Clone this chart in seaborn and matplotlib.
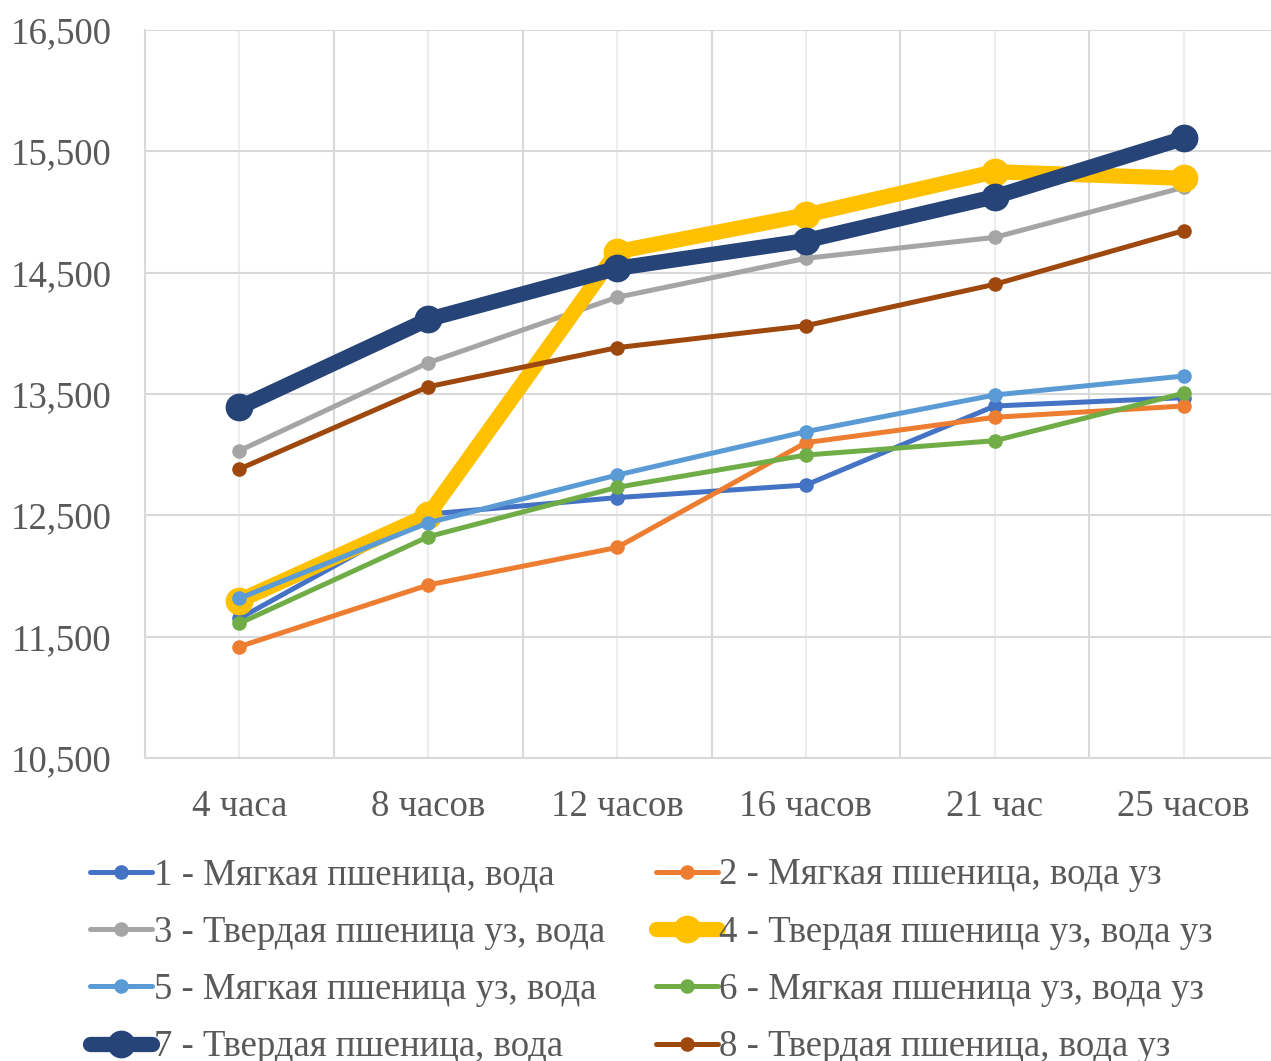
import numpy as np
import pandas as pd
import seaborn as sns
import matplotlib.pyplot as plt
from matplotlib.ticker import FuncFormatter, FixedLocator

# Time points (categories on the x axis)
hours = ["4 часа", "8 часов", "12 часов", "16 часов", "21 час", "25 часов"]

# Series names
names = [
    "1 - Мягкая пшеница, вода",
    "2 - Мягкая пшеница, вода уз",
    "3 - Твердая пшеница уз, вода",
    "4 - Твердая пшеница уз, вода уз",
    "5 - Мягкая пшеница уз, вода",
    "6 - Мягкая пшеница уз, вода уз",
    "7 - Твердая пшеница, вода",
    "8 - Твердая пшеница, вода уз",
]

# Values per series
s1 = [11650, 12510, 12646, 12750, 13401, 13470]
s2 = [11418, 11926, 12235, 13099, 13308, 13401]
s3 = [13033, 13758, 14297, 14618, 14791, 15203]
s4 = [11797, 12503, 14673, 14975, 15332, 15278]
s5 = [11816, 12439, 12832, 13190, 13492, 13648]
s6 = [11610, 12324, 12731, 12997, 13115, 13506]
s7 = [13390, 14115, 14536, 14764, 15126, 15607]
s8 = [12882, 13560, 13882, 14063, 14404, 14846]

series = [s1, s2, s3, s4, s5, s6, s7, s8]
colors = ["#4472C4", "#ED7D31", "#A5A5A5", "#FFC000",
          "#5B9BD5", "#70AD47", "#264478", "#9E480E"]
widths = [3.6, 3.6, 3.6, 11, 3.6, 3.6, 11, 3.6]
msizes = [10.5, 10.5, 10.5, 20, 10.5, 10.5, 20, 10.5]

sns.set_theme(style="white")
plt.rcParams["font.family"] = ["Liberation Serif", "DejaVu Serif"]
text_color = "#595959"
fs = 26.5

fig = plt.figure(figsize=(12.71, 10.61), dpi=100)
ax = fig.add_axes([145 / 1271, 303 / 1061, 1133 / 1271, 728 / 1061])

pos = np.arange(len(hours))
for name, vals, c, lw, ms in zip(names, series, colors, widths, msizes):
    df = pd.DataFrame({"pos": pos, "value": vals})
    sns.lineplot(data=df, x="pos", y="value", ax=ax, color=c, linewidth=lw,
                 marker="o", markersize=ms, markeredgewidth=0,
                 label=name, legend=False)

ax.set_xlim(-0.5, 5.5)
ax.set_ylim(10500, 16500)
ax.set_yticks(np.arange(10500, 16501, 1000))
ax.yaxis.set_major_formatter(FuncFormatter(lambda v, p: f"{int(v):,}"))
ax.set_xticks(pos)
ax.set_xticklabels(hours)
ax.xaxis.set_minor_locator(FixedLocator(np.arange(-0.5, 6.0, 1.0)))

ax.grid(False)
ax.grid(axis="y", which="major", color="#D9D9D9", linewidth=1.5)
ax.grid(axis="x", which="major", color="#EDEDED", linewidth=1.5)
ax.grid(axis="x", which="minor", color="#D9D9D9", linewidth=1.5)
ax.set_axisbelow(True)
for sp in ax.spines.values():
    sp.set_visible(False)
ax.spines["left"].set_visible(True)
ax.spines["left"].set_color("#D9D9D9")
ax.spines["left"].set_linewidth(1.5)
ax.spines["bottom"].set_visible(True)
ax.spines["bottom"].set_color("#D9D9D9")
ax.spines["bottom"].set_linewidth(1.5)

ax.tick_params(axis="y", length=0, pad=24, labelsize=fs, labelcolor=text_color)
ax.tick_params(axis="x", which="both", length=0, pad=23, labelsize=fs,
               labelcolor=text_color)
ax.set_xlabel("")
ax.set_ylabel("")

# Legend in two columns, filled row by row
handles, labels = ax.get_legend_handles_labels()
order = [0, 2, 4, 6, 1, 3, 5, 7]
leg = fig.legend([handles[i] for i in order], [labels[i] for i in order],
                 ncol=2, loc="upper left",
                 bbox_to_anchor=(90 / 1271, 1 - 858 / 1061),
                 frameon=False, fontsize=fs, handlelength=1.68,
                 handletextpad=0.05, columnspacing=1.38, labelspacing=0.62,
                 borderpad=0, borderaxespad=0)
for t in leg.get_texts():
    t.set_color(text_color)

fig.savefig("out.png", dpi=100)
